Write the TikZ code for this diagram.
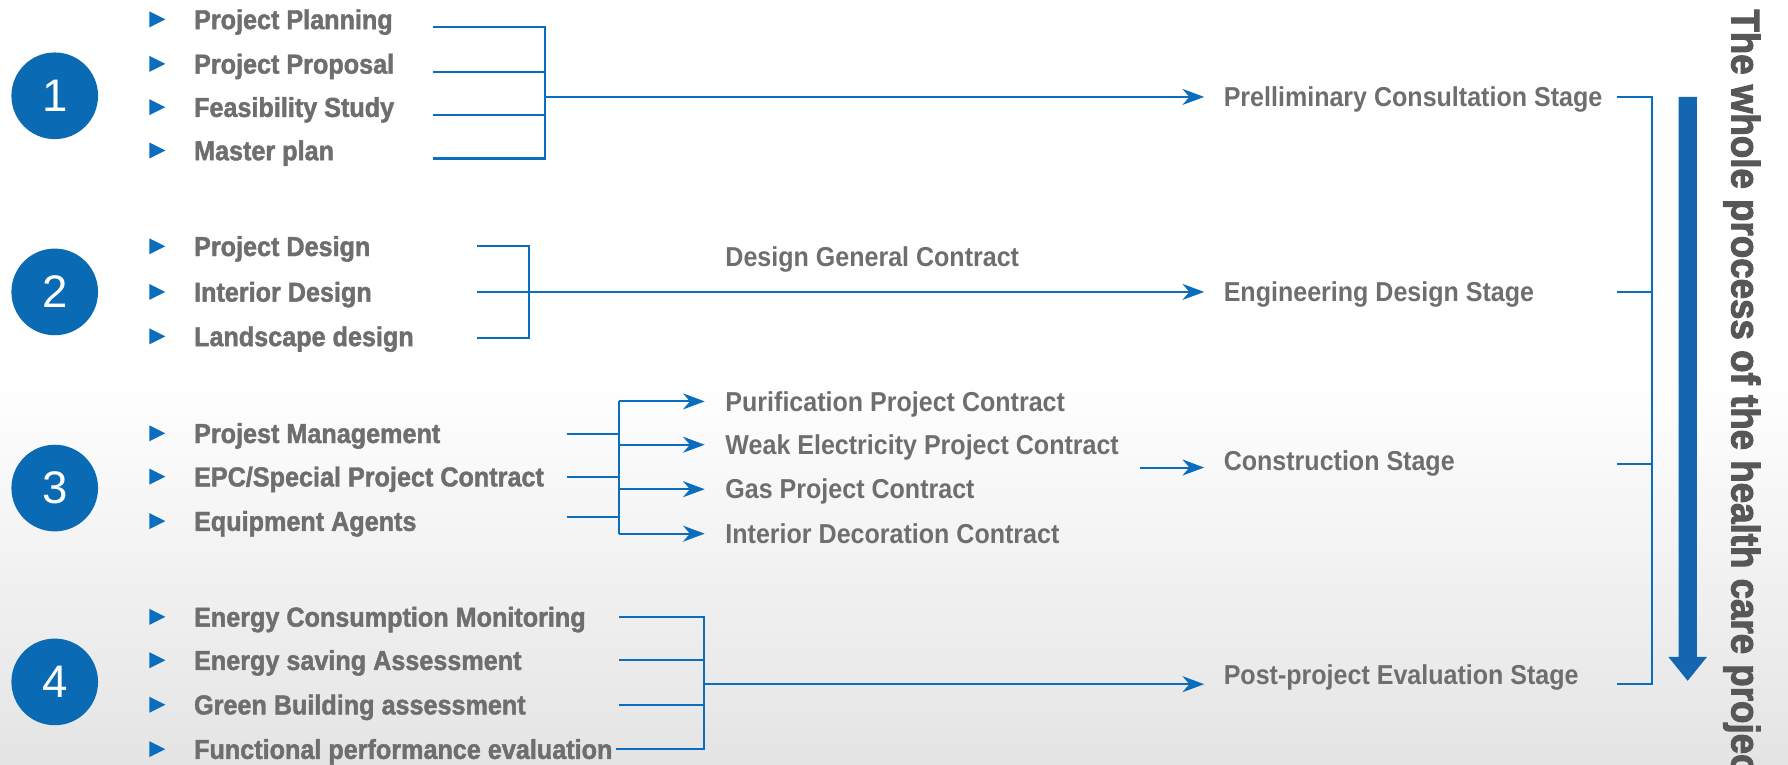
\documentclass[tikz,border=0pt]{standalone}
\usepackage{fontspec}
\setmainfont{Liberation Sans}
\newfontfamily\itemfont{Liberation Sans}[UprightFont=* Bold, FakeStretch=0.92, FakeBold=1.6]
\newfontfamily\stagefont{Liberation Sans}[UprightFont=* Bold, FakeStretch=0.915]
\newfontfamily\titlefont{Liberation Sans}[UprightFont=* Bold, FakeStretch=0.92, FakeBold=2.5]
\usetikzlibrary{arrows.meta}
\definecolor{bl}{HTML}{0A6DBD}
\definecolor{circ}{HTML}{0B6AB4}
\definecolor{bigar}{HTML}{1466B0}
\definecolor{tg}{HTML}{6E6E6E}
\definecolor{tdark}{HTML}{575757}
\definecolor{bgg}{HTML}{E4E4E4}
\tikzset{
  item/.style={anchor=west, text=tg, font=\itemfont\fontsize{24}{28}\selectfont, inner sep=0pt, text height=17pt, text depth=0pt},
  stage/.style={anchor=west, text=tg, font=\stagefont\fontsize{24}{28}\selectfont, inner sep=0pt, text height=17pt, text depth=0pt},
  num/.style={circle, fill=circ, text=white, minimum size=76pt, inner sep=0pt, font=\fontsize{40}{40}\selectfont},
  conn/.style={draw=bl, line width=1.8pt},
  arr/.style={conn, -{Stealth[length=19pt,width=14pt,inset=6pt]}},
  bullet/.style={fill=bl}
}
\newcommand{\bulletat}[2]{\fill[bullet] (#1-7,#2-7) -- (#1+7,#2) -- (#1-7,#2+7) -- cycle;}
\begin{document}
\begin{tikzpicture}[x=1pt,y=-1pt]
\useasboundingbox (0,0) rectangle (1568,670);
\clip (0,0) rectangle (1568,670);
% background
\fill[white] (0,0) rectangle (1568,670);
\shade[top color=white, bottom color=bgg] (0,330) rectangle (1568,670);

% circles
\node[num] (c1) at (48,84) {1};
\node[num] (c2) at (48,256) {2};
\node[num] (c3) at (48,428) {3};
\node[num] (c4) at (48,598) {4};

% bullets
\foreach \y in {17,56,94,132,216,256,295,380,418,457,541,579,618,657} {\bulletat{138}{\y}}

% section 1 items
\node[item] (a1) at (170,17) {Project Planning};
\node[item] (a2) at (170,56) {Project Proposal};
\node[item] (a3) at (170,94) {Feasibility Study};
\node[item] (a4) at (170,132) {Master plan};
% section 2 items
\node[item] (b1) at (170,216) {Project Design};
\node[item] (b2) at (170,256) {Interior Design};
\node[item] (b3) at (170,295) {Landscape design};
% section 3 items
\node[item] (d1) at (170,380) {Projest Management};
\node[item] (d2) at (170,418) {EPC/Special Project Contract};
\node[item] (d3) at (170,457) {Equipment Agents};
% section 4 items
\node[item] (e1) at (170,541) {Energy Consumption Monitoring};
\node[item] (e2) at (170,579) {Energy saving Assessment};
\node[item] (e3) at (170,618) {Green Building assessment};
\node[item] (e4) at (170,657) {Functional performance evaluation};

% contracts
\node[stage] (g0) at (636,225) {Design General Contract};
\node[stage] (g1) at (636,352) {Purification Project Contract};
\node[stage] (g2) at (636,390) {Weak Electricity Project Contract};
\node[stage] (g3) at (636,429) {Gas Project Contract};
\node[stage] (g4) at (636,468) {Interior Decoration Contract};

% stages
\node[stage] (s1) at (1073,85) {Prelliminary Consultation Stage};
\node[stage] (s2) at (1073,256) {Engineering Design Stage};
\node[stage] (s3) at (1073,404) {Construction Stage};
\node[stage] (s4) at (1073,592) {Post-project Evaluation Stage};

% section 1 connectors
\coordinate (a1r) at (380,24);
\coordinate (a2r) at (380,63);
\coordinate (a3r) at (380,101);
\coordinate (a4r) at (380,139);
\coordinate (ja) at (478,85);
\draw[conn] (a1r) -- (a1r -| ja) -- (a4r -| ja) -- (a4r);
\draw[conn] (a2r) -- (a2r -| ja);
\draw[conn] (a3r) -- (a3r -| ja);
\draw[arr] (ja) -- ([xshift=-17pt]s1.west |- ja);

% section 2 connectors
\coordinate (b1r) at (418,216);
\coordinate (b2r) at (418,256);
\coordinate (b3r) at (418,296);
\coordinate (jb) at (464,256);
\draw[conn] (b1r) -- (b1r -| jb) -- (b3r -| jb) -- (b3r);
\draw[arr] (b2r) -- ([xshift=-17pt]s2.west |- b2r);

% section 3 connectors
\coordinate (d1r) at (497,381);
\coordinate (d2r) at (497,418);
\coordinate (d3r) at (497,453);
\coordinate (jd) at (543,410);
\draw[conn] (d1r) -- (d1r -| jd);
\draw[conn] (d2r) -- (d2r -| jd);
\draw[conn] (d3r) -- (d3r -| jd);
\draw[conn] (jd |- g1.west) -- (jd |- g4.west);
\draw[arr] (jd |- g1.west) -- ([xshift=-18pt]g1.west);
\draw[arr] (jd |- g2.west) -- ([xshift=-18pt]g2.west);
\draw[arr] (jd |- g3.west) -- ([xshift=-18pt]g3.west);
\draw[arr] (jd |- g4.west) -- ([xshift=-18pt]g4.west);
\coordinate (cs) at (1000,410);
\draw[arr] (cs) -- ([xshift=-17pt]s3.west |- cs);

% section 4 connectors
\coordinate (e1r) at (543,541);
\coordinate (e2r) at (543,579);
\coordinate (e3r) at (543,618);
\coordinate (e4r) at (540,657);
\coordinate (je) at (617,600);
\draw[conn] (e1r) -- (e1r -| je) -- (e4r -| je) -- (e4r);
\draw[conn] (e2r) -- (e2r -| je);
\draw[conn] (e3r) -- (e3r -| je);
\draw[arr] (je) -- ([xshift=-17pt]s4.west |- je);

% right bracket
\coordinate (t1) at (1418,85);
\coordinate (t2) at (1418,256);
\coordinate (t3) at (1418,407);
\coordinate (t4) at (1418,600);
\coordinate (vx) at (1449,0);
\draw[conn, line width=1.5pt] (t1) -- (t1 -| vx) -- (t4 -| vx) -- (t4);
\draw[conn, line width=1.5pt] (t2) -- (t2 -| vx);
\draw[conn, line width=1.5pt] (t3) -- (t3 -| vx);

% big arrow
\fill[bigar] (1472,85) -- (1488,85) -- (1488,576) -- (1497,576) -- (1480,597) -- (1463,576) -- (1472,576) -- cycle;

% vertical title
\node[anchor=west, rotate=-90, inner sep=0pt, text=tdark, font=\titlefont\fontsize{35}{40}\selectfont, text height=25pt, text depth=0pt] (title) at (1531,8) {The whole process of the health care project};
\end{tikzpicture}
\end{document}
